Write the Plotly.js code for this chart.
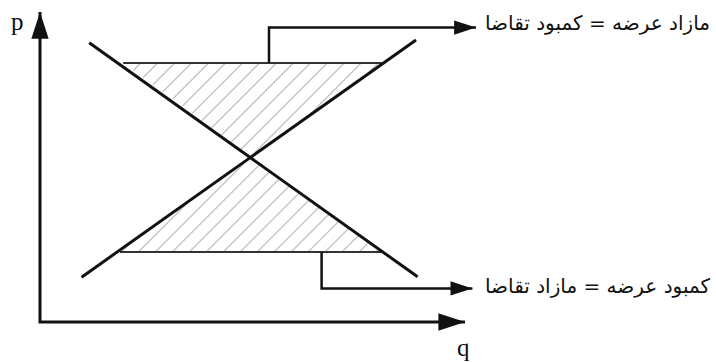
<!DOCTYPE html>
<html>
<head>
<meta charset="utf-8">
<script src="https://cdn.plot.ly/plotly-3.0.1.min.js"></script>
<style>html,body{margin:0;padding:0;background:#fff;}#chart{width:716px;height:362px;}</style>
</head>
<body>
<div id="chart"></div>
<script>
// Economic model values (q = quantity, p = price)
const demandQ = [1.23, 9.44];
const demandP = [6.98, 1.13];
const supplyQ = [1.04, 9.40];
const supplyP = [1.12, 7.05];
const equilibriumQ = 5.29;
const equilibriumP = 4.13;
const highPrice = 6.475;            // price above equilibrium
const highPriceQ = [2.08, 8.55];    // demand / supply at high price
const lowPrice = 1.75;              // price below equilibrium
const lowPriceQ = [2.00, 8.525];    // supply / demand at low price
const axisQ = [0, 0, 10.625];
const axisP = [7.75, 0, 0];
const surplusLinkQ = [5.725, 5.725, 10.9];
const surplusLinkP = [6.475, 7.36, 7.36];
const shortageLinkQ = [7.04, 7.04, 10.81];
const shortageLinkP = [1.75, 0.84, 0.84];
const labelSurplus = "مازاد عرضه = کمبود تقاضا";
const labelShortage = "کمبود عرضه = مازاد تقاضا";
const labelP = "p";
const labelQ = "q";

const black = "#111";
const hatch = {shape: "/", size: 12, solidity: 0.08, fgcolor: "#888", bgcolor: "#fff"};

const traces = [
  {x: [highPriceQ[0], highPriceQ[1], equilibriumQ, highPriceQ[0]],
   y: [highPrice, highPrice, equilibriumP, highPrice],
   mode: "lines", fill: "toself", fillcolor: "#fff", fillpattern: hatch,
   line: {width: 0, color: "rgba(0,0,0,0)"}, hoverinfo: "skip"},
  {x: [lowPriceQ[0], lowPriceQ[1], equilibriumQ, lowPriceQ[0]],
   y: [lowPrice, lowPrice, equilibriumP, lowPrice],
   mode: "lines", fill: "toself", fillcolor: "#fff", fillpattern: hatch,
   line: {width: 0, color: "rgba(0,0,0,0)"}, hoverinfo: "skip"},
  {x: highPriceQ, y: [highPrice, highPrice], mode: "lines", line: {width: 2.2, color: "#333"}},
  {x: lowPriceQ, y: [lowPrice, lowPrice], mode: "lines", line: {width: 2.2, color: "#333"}},
  {x: demandQ, y: demandP, mode: "lines", line: {width: 3, color: black}},
  {x: supplyQ, y: supplyP, mode: "lines", line: {width: 3, color: black}},
  {x: axisQ, y: axisP, mode: "lines", line: {width: 3, color: black}},
  {x: surplusLinkQ, y: surplusLinkP, mode: "lines", line: {width: 2.5, color: black}},
  {x: shortageLinkQ, y: shortageLinkP, mode: "lines", line: {width: 2.5, color: black}},
  {x: [axisQ[0], axisQ[2]], y: [axisP[0], axisP[2]], mode: "markers",
   marker: {symbol: "arrow", size: 28, angle: [0, 90], color: black, line: {width: 0}}},
  {x: [surplusLinkQ[2], shortageLinkQ[2]], y: [surplusLinkP[2], shortageLinkP[2]], mode: "markers",
   marker: {symbol: "arrow", size: 23, angle: [90, 90], color: black, line: {width: 0}}}
];

const serif = {family: "Liberation Serif, serif", size: 25, color: black};
const persian = {family: "DejaVu Sans, sans-serif", size: 20, color: black};

const layout = {
  width: 716, height: 362,
  margin: {l: 0, r: 0, t: 0, b: 0},
  paper_bgcolor: "#fff", plot_bgcolor: "#fff",
  showlegend: false,
  xaxis: {range: [-1, 16.9], visible: false, fixedrange: true},
  yaxis: {range: [-1, 8.05], visible: false, fixedrange: true},
  annotations: [
    {x: -0.575, y: 7.52, text: labelP, showarrow: false, font: serif, xanchor: "center", yanchor: "middle"},
    {x: 10.575, y: -0.64, text: labelQ, showarrow: false, font: serif, xanchor: "center", yanchor: "middle"},
    {x: 11.07, y: 7.47, text: labelSurplus, showarrow: false, font: persian, xanchor: "left", yanchor: "middle"},
    {x: 11.07, y: 0.90, text: labelShortage, showarrow: false, font: persian, xanchor: "left", yanchor: "middle"}
  ]
};

Plotly.newPlot("chart", traces, layout, {staticPlot: true, displayModeBar: false});
</script>
</body>
</html>
